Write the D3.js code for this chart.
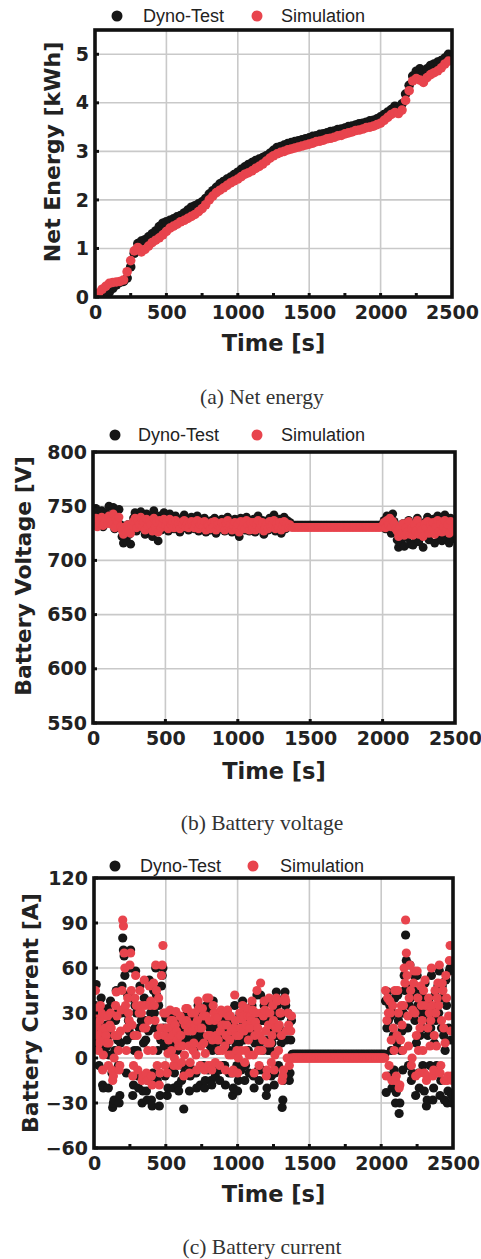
<!DOCTYPE html>
<html><head><meta charset="utf-8">
<script src="https://cdn.jsdelivr.net/npm/d3@7"></script>
<style>body{margin:0;background:#fff}</style>
</head><body>
<script>
// ---------- DATA ----------
const timeTicks = [0, 500, 1000, 1500, 2000, 2500];
const seriesNames = ["Dyno-Test", "Simulation"];
const energyStep = 25;   // s between samples, panel (a)
const voltageStep = 10;  // s between samples, panel (b)
const currentStep = 5;   // s between samples, panel (c)

const energyDyno = [
0,0,0.02,0.06,0.1,0.18,0.25,0.3,0.32,0.39,
0.62,0.9,1.1,1.15,1.18,1.24,1.3,1.36,1.45,1.52,
1.55,1.58,1.61,1.65,1.68,1.73,1.79,1.85,1.88,1.92,
1.96,2.03,2.12,2.19,2.26,2.33,2.38,2.43,2.47,2.52,
2.57,2.63,2.68,2.73,2.77,2.81,2.84,2.87,2.91,2.96,
3.02,3.08,3.1,3.13,3.16,3.18,3.2,3.22,3.24,3.26,
3.28,3.31,3.32,3.35,3.36,3.38,3.41,3.42,3.45,3.46,
3.48,3.51,3.52,3.54,3.57,3.58,3.6,3.63,3.64,3.67,
3.71,3.76,3.81,3.86,3.93,3.9,3.98,4.18,4.36,4.55,
4.65,4.7,4.62,4.7,4.77,4.8,4.84,4.87,4.92,5.0];
const energySim = [
0.02,0.08,0.16,0.22,0.28,0.3,0.31,0.32,0.35,0.52,
0.75,0.95,1.02,0.93,0.98,1.05,1.12,1.17,1.22,1.28,
1.35,1.42,1.46,1.5,1.55,1.58,1.62,1.66,1.7,1.76,
1.82,1.9,2.0,2.08,2.15,2.2,2.25,2.3,2.35,2.39,
2.43,2.48,2.53,2.56,2.6,2.65,2.69,2.74,2.8,2.86,
2.91,2.95,2.98,3.0,3.03,3.05,3.07,3.09,3.11,3.13,
3.15,3.17,3.2,3.21,3.23,3.26,3.27,3.29,3.32,3.33,
3.36,3.38,3.4,3.43,3.44,3.46,3.49,3.5,3.52,3.55,
3.58,3.64,3.7,3.76,3.8,3.78,3.85,4.05,4.25,4.45,
4.5,4.47,4.42,4.52,4.58,4.62,4.66,4.72,4.8,4.86];

const voltageDyno = [
745,738,748,733,742,736,746,731,740,744,
737,750,741,735,749,729,744,738,747,733,
722,716,728,719,733,724,715,730,739,744,
727,741,735,745,731,738,724,743,729,740,
734,722,746,730,737,718,741,728,735,744,
731,739,727,743,733,736,729,741,732,738,
726,737,734,742,730,738,728,735,740,732,
729,736,741,727,734,738,731,739,726,735,
733,728,737,731,739,725,734,736,729,738,
732,727,735,740,730,736,726,733,738,729,
734,722,739,731,736,728,740,733,727,737,
730,738,726,735,741,729,734,737,724,732,
736,728,739,731,734,742,727,736,730,738,
725,733,740,729,737,731,735,732.5,732.5,732.5,
732.5,732.5,732.5,732.5,732.5,732.5,732.5,732.5,732.5,732.5,
732.5,732.5,732.5,732.5,732.5,732.5,732.5,732.5,732.5,732.5,
732.5,732.5,732.5,732.5,732.5,732.5,732.5,732.5,732.5,732.5,
732.5,732.5,732.5,732.5,732.5,732.5,732.5,732.5,732.5,732.5,
732.5,732.5,732.5,732.5,732.5,732.5,732.5,732.5,732.5,732.5,
732.5,732.5,732.5,732.5,732.5,732.5,732.5,732.5,732.5,732.5,
733,737,729,741,732,738,725,743,736,730,
719,712,728,716,734,713,730,721,737,715,
726,714,733,720,739,717,731,724,712,735,
728,740,719,733,725,738,716,731,741,722,
736,718,730,742,721,734,716,739,727,720];
const voltageSim = [
736,733,739,731,737,734,740,732,735,738,
734,741,736,733,743,730,738,735,740,731,
728,724,731,726,733,727,725,732,736,739,
730,737,733,740,731,735,728,738,732,736,
733,727,739,731,735,726,737,730,734,738,
732,736,729,738,733,735,730,737,731,734,
729,735,733,737,731,734,730,733,736,731,
730,734,737,729,733,735,731,736,728,733,
732,729,735,731,736,728,733,734,730,735,
731,728,734,737,730,733,728,732,735,729,
733,726,736,730,734,729,737,732,728,735,
730,735,728,733,737,729,733,735,727,731,
734,729,736,731,733,737,729,734,730,735,
728,732,736,730,734,731,733,730.5,730.5,730.5,
730.5,730.5,730.5,730.5,730.5,730.5,730.5,730.5,730.5,730.5,
730.5,730.5,730.5,730.5,730.5,730.5,730.5,730.5,730.5,730.5,
730.5,730.5,730.5,730.5,730.5,730.5,730.5,730.5,730.5,730.5,
730.5,730.5,730.5,730.5,730.5,730.5,730.5,730.5,730.5,730.5,
730.5,730.5,730.5,730.5,730.5,730.5,730.5,730.5,730.5,730.5,
730.5,730.5,730.5,730.5,730.5,730.5,730.5,730.5,730.5,730.5,
732,735,730,737,733,739,731,736,734,729,
727,722,731,725,734,723,730,726,736,724,
729,723,733,727,737,724,731,728,722,734,
730,736,725,733,729,735,724,731,737,727,
734,726,731,737,728,733,725,736,730,727];

const currentDyno = [
12,25,35,49,30,18,8,-5,10,28,
40,22,-18,-20,5,15,30,22,8,33,
-20,2,15,38,25,-10,-33,-30,-28,5,
25,45,30,12,-5,-30,-25,10,30,48,
80,72,68,55,30,-10,12,42,25,18,
60,72,40,15,-25,-18,5,35,58,30,
5,-12,-20,20,48,30,25,-30,-22,10,
40,25,12,-22,-28,-15,18,52,35,30,
-28,-32,-10,45,30,20,60,42,-15,5,
35,-32,-25,12,48,55,60,20,8,-12,
27,15,-25,-20,5,15,30,20,-8,10,
22,-20,-10,18,28,12,5,-18,-22,8,
25,10,-15,-5,20,-34,-10,15,28,20,
30,12,-5,-22,-12,18,25,12,-8,5,
28,15,-10,-20,22,35,30,12,-18,-5,
15,30,22,-5,-20,-15,25,35,10,-8,
32,20,8,-15,-18,5,38,25,20,-12,
10,28,22,5,-8,-15,12,30,18,-5,
26,15,-5,-18,10,18,30,22,-10,5,
25,12,-10,-25,-20,15,35,20,8,-5,
-22,-15,10,28,15,-8,20,38,22,12,
-15,-5,18,30,25,5,-10,15,25,20,
35,28,-12,-20,10,20,28,42,15,-8,
-15,10,42,25,-8,5,25,35,30,12,
-25,-20,5,18,38,25,5,-12,10,30,
22,-18,-10,15,44,35,15,-5,20,28,
28,10,-33,-28,-15,40,44,35,12,-10,
30,18,-15,-10,12,25,2.5,2.5,2.5,2.5,
2.5,2.5,2.5,2.5,2.5,2.5,2.5,2.5,2.5,2.5,
2.5,2.5,2.5,2.5,2.5,2.5,2.5,2.5,2.5,2.5,
2.5,2.5,2.5,2.5,2.5,2.5,2.5,2.5,2.5,2.5,
2.5,2.5,2.5,2.5,2.5,2.5,2.5,2.5,2.5,2.5,
2.5,2.5,2.5,2.5,2.5,2.5,2.5,2.5,2.5,2.5,
2.5,2.5,2.5,2.5,2.5,2.5,2.5,2.5,2.5,2.5,
2.5,2.5,2.5,2.5,2.5,2.5,2.5,2.5,2.5,2.5,
2.5,2.5,2.5,2.5,2.5,2.5,2.5,2.5,2.5,2.5,
2.5,2.5,2.5,2.5,2.5,2.5,2.5,2.5,2.5,2.5,
2.5,2.5,2.5,2.5,2.5,2.5,2.5,2.5,2.5,2.5,
2.5,2.5,2.5,2.5,2.5,2.5,2.5,2.5,2.5,2.5,
2.5,2.5,2.5,2.5,2.5,2.5,2.5,2.5,2.5,2.5,
2.5,2.5,2.5,2.5,2.5,2.5,38,-23,20,44,
25,-12,35,28,5,-20,30,15,-8,40,
-30,-23,10,42,25,-37,-30,5,30,18,
-8,30,55,45,82,65,48,20,-5,35,
62,40,-15,-10,28,45,55,25,-25,10,
55,35,-10,-20,15,45,30,20,-5,40,
-22,50,30,-32,-28,15,38,25,-5,20,
55,30,-28,-20,10,42,25,-5,35,48,
30,58,-25,-15,20,48,40,15,-28,5,
52,35,-30,-22,20,58,60,12,-25,-30];
const currentSim = [
20,33,45,30,22,15,5,10,25,35,
30,18,-8,2,12,20,28,15,10,28,
-5,10,22,30,20,-8,-15,-12,0,15,
35,44,28,15,5,-8,-5,18,32,45,
92,88,70,60,35,5,20,40,30,25,
62,70,45,22,-12,-5,15,40,55,35,
15,-8,2,30,45,35,30,-15,-12,20,
52,35,20,-10,-15,5,25,48,35,38,
-12,-18,5,50,35,25,62,45,-5,15,
40,-18,-10,20,55,62,75,30,15,-5,
30,20,-10,3,12,20,32,25,5,15,
25,-5,0,22,31,18,12,-5,8,15,
28,15,-3,8,25,-12,2,22,33,25,
33,18,8,-10,-3,22,30,18,5,10,
30,22,2,-8,25,38,33,20,-5,8,
20,33,28,10,-8,3,28,40,15,-5,
40,25,15,-5,-8,12,35,30,25,-3,
15,30,27,12,5,-5,18,32,22,5,
30,22,8,-8,15,22,32,28,2,12,
28,18,2,-10,-8,20,42,25,15,5,
-10,0,15,30,20,5,26,35,28,18,
-3,5,22,33,28,12,2,20,28,25,
38,32,2,-10,15,24,30,45,20,5,
-5,15,50,30,5,12,28,38,32,18,
-12,-8,10,22,40,30,10,-3,15,35,
25,-8,2,20,40,38,20,5,22,30,
30,15,-15,-12,-8,38,40,38,18,0,
30,22,-5,0,18,28,0,0,0,0,
0,0,0,0,0,0,0,0,0,0,
0,0,0,0,0,0,0,0,0,0,
0,0,0,0,0,0,0,0,0,0,
0,0,0,0,0,0,0,0,0,0,
0,0,0,0,0,0,0,0,0,0,
0,0,0,0,0,0,0,0,0,0,
0,0,0,0,0,0,0,0,0,0,
0,0,0,0,0,0,0,0,0,0,
0,0,0,0,0,0,0,0,0,0,
0,0,0,0,0,0,0,0,0,0,
0,0,0,0,0,0,0,0,0,0,
0,0,0,0,0,0,0,0,0,0,
0,0,0,0,0,0,45,-12,25,40,
30,-5,38,30,12,-15,35,20,5,45,
-15,-12,15,45,30,-20,-18,12,35,22,
5,35,60,50,92,70,55,28,8,40,
62,45,-5,0,32,50,58,30,-12,15,
58,40,5,-10,20,48,35,25,5,45,
-10,52,35,-15,-12,20,40,30,8,25,
60,35,-12,-8,15,45,30,8,40,50,
35,62,-10,-5,25,50,45,20,-15,10,
55,40,-15,-12,28,65,75,18,-12,-15];

const energyTicks = [0,1,2,3,4,5];
const voltageTicks = [550,600,650,700,750,800];
const currentTicks = [-60,-30,0,30,60,90,120];

// ---------- STYLE ----------
const COL_DYNO = "#161616", COL_SIM = "#e8444d";
const TICK_FONT = "'DejaVu Sans', sans-serif";

const svg = d3.select("body").append("svg").attr("width",481).attr("height",1259);

function panel(o){
  const g = svg.append("g");
  const x = d3.scaleLinear().domain([0,2500]).range([o.left,o.right]);
  const y = d3.scaleLinear().domain(o.yDomain).range([o.bottom,o.top]);

  // grid
  g.append("g").selectAll("line").data(timeTicks.slice(1,-1)).join("line")
    .attr("x1",d=>x(d)).attr("x2",d=>x(d)).attr("y1",o.top).attr("y2",o.bottom)
    .attr("stroke","#c9c9c9").attr("stroke-width",1.6);
  g.append("g").selectAll("line").data(o.yTicks.slice(1,-1).concat(o.gridTop?[o.yTicks[o.yTicks.length-1]]:[])).join("line")
    .attr("y1",d=>y(d)).attr("y2",d=>y(d)).attr("x1",o.left).attr("x2",o.right)
    .attr("stroke","#c9c9c9").attr("stroke-width",1.6);

  // data
  const cid = "clip"+o.id;
  svg.append("clipPath").attr("id",cid).append("rect")
    .attr("x",o.left).attr("y",o.top).attr("width",o.right-o.left).attr("height",o.bottom-o.top);
  const dg = g.append("g").attr("clip-path",`url(#${cid})`);
  o.series.forEach(s=>{
    dg.append("g").selectAll("circle").data(s.values).join("circle")
      .attr("cx",(d,i)=>x(i*s.step)).attr("cy",d=>y(d)).attr("r",o.r)
      .attr("fill",s.color);
  });

  // inner tick marks
  g.append("g").selectAll("line").data(o.xMarks).join("line")
    .attr("x1",d=>x(d)).attr("x2",d=>x(d)).attr("y1",o.bottom).attr("y2",o.bottom-4)
    .attr("stroke","#111").attr("stroke-width",3);
  g.append("g").selectAll("line").data(o.yTicks).join("line")
    .attr("y1",d=>y(d)).attr("y2",d=>y(d)).attr("x1",o.left).attr("x2",o.left+4)
    .attr("stroke","#111").attr("stroke-width",3);

  // frame
  g.append("rect").attr("x",o.left).attr("y",o.top).attr("width",o.right-o.left).attr("height",o.bottom-o.top)
    .attr("fill","none").attr("stroke","#111").attr("stroke-width",3.6);

  // axes labels via d3 axes
  const ax = g.append("g").attr("transform",`translate(0,${o.bottom})`)
    .call(d3.axisBottom(x).tickValues(timeTicks).tickSize(0).tickPadding(9).tickFormat(d3.format("d")));
  ax.select(".domain").remove();
  ax.selectAll("text").attr("font-family",TICK_FONT).attr("font-weight","bold").attr("font-size",19).attr("fill","#222");
  const ay = g.append("g").attr("transform",`translate(${o.left},0)`)
    .call(d3.axisLeft(y).tickValues(o.yTicks).tickSize(0).tickPadding(6).tickFormat(d3.format("d")));
  ay.select(".domain").remove();
  ay.selectAll("text").attr("font-family",TICK_FONT).attr("font-weight","bold").attr("font-size",19).attr("fill","#222");

  // axis titles
  g.append("text").attr("x",(o.left+o.right)/2).attr("y",o.xTitleY).attr("text-anchor","middle")
    .attr("font-family",TICK_FONT).attr("font-weight","bold").attr("font-size",22.5).attr("fill","#222")
    .text("Time [s]");
  g.append("text").attr("transform",`translate(${o.yTitleX},${o.yTitleY}) rotate(-90)`).attr("text-anchor","middle")
    .attr("dominant-baseline","central")
    .attr("font-family",TICK_FONT).attr("font-weight","bold").attr("font-size",22).attr("fill","#222")
    .text(o.yTitle);

  // legend
  const lg = g.append("g");
  [COL_DYNO, COL_SIM].forEach((c,i)=>{
    lg.append("circle").attr("cx",o.legDot[i]).attr("cy",o.legY).attr("r",5.5).attr("fill",c);
    lg.append("text").attr("x",o.legText[i]).attr("y",o.legY).attr("dominant-baseline","central")
      .attr("font-family","'Liberation Sans', Arial, sans-serif").attr("font-size",18).attr("fill","#222")
      .text(seriesNames[i]);
  });

  // caption
  g.append("text").attr("x",262).attr("y",o.capY).attr("text-anchor","middle")
    .attr("font-family","'Liberation Serif', 'Times New Roman', serif").attr("font-size",21.5).attr("fill","#333")
    .text(o.caption);
}

panel({id:"a", left:95, right:452, top:30, bottom:297, yDomain:[0,5.5], yTicks:energyTicks, gridTop:true,
  xMarks:[250,500,750,1000,1250,1500,1750,2000,2250], r:4.8,
  series:[{values:energyDyno,step:energyStep,color:COL_DYNO},{values:energySim,step:energyStep,color:COL_SIM}],
  xTitleY:351, yTitle:"Net Energy [kWh]", yTitleX:52, yTitleY:152,
  legY:16, legDot:[117,257], legText:[143,281], caption:"(a) Net energy", capY:404});

panel({id:"b", left:93, right:455, top:452, bottom:723, yDomain:[550,800], yTicks:voltageTicks, gridTop:false,
  xMarks:[500,1000,1500,2000], r:4.4,
  series:[{values:voltageDyno,step:voltageStep,color:COL_DYNO},{values:voltageSim,step:voltageStep,color:COL_SIM}],
  xTitleY:779, yTitle:"Battery Voltage [V]", yTitleX:23, yTitleY:576,
  legY:435, legDot:[115,257], legText:[138,281], caption:"(b) Battery voltage", capY:830});

panel({id:"c", left:94, right:453, top:878, bottom:1148, yDomain:[-60,120], yTicks:currentTicks, gridTop:false,
  xMarks:[250,500,750,1000,1250,1500,1750,2000,2250], r:4.6,
  series:[{values:currentDyno,step:currentStep,color:COL_DYNO},{values:currentSim,step:currentStep,color:COL_SIM}],
  xTitleY:1202, yTitle:"Battery Current [A]", yTitleX:30, yTitleY:1013,
  legY:866, legDot:[115,253], legText:[140,280], caption:"(c) Battery current", capY:1254});
</script>
</body></html>
